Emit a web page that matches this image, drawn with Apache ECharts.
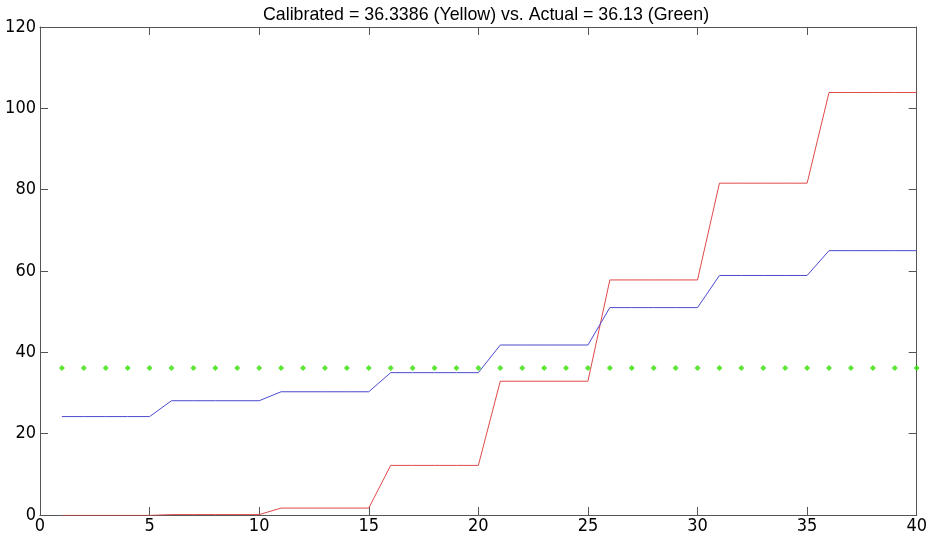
<!DOCTYPE html>
<html><head><meta charset="utf-8">
<script src="https://cdn.jsdelivr.net/npm/echarts@6/dist/echarts.min.js"></script>
<style>html,body{margin:0;padding:0;background:#fff}#c{width:930px;height:538px}</style>
</head><body><div id="c"></div>
<script>
var titleText = 'Calibrated = 36.3386 (Yellow) vs. Actual = 36.13 (Green)';
var xValues = [1,2,3,4,5,6,7,8,9,10,11,12,13,14,15,16,17,18,19,20,21,22,23,24,25,26,27,28,29,30,31,32,33,34,35,36,37,38,39,40];
var redValues = [-0.1,-0.1,-0.1,-0.1,-0.1,0.1,0.1,0.1,0.1,0.1,1.7,1.7,1.7,1.7,1.7,12.2,12.2,12.2,12.2,12.2,32.9,32.9,32.9,32.9,32.9,57.8,57.8,57.8,57.8,57.8,81.6,81.6,81.6,81.6,81.6,103.9,103.9,103.9,103.9,103.9];
var blueValues = [24.2,24.2,24.2,24.2,24.2,28.1,28.1,28.1,28.1,28.1,30.3,30.3,30.3,30.3,30.3,35.0,35.0,35.0,35.0,35.0,41.8,41.8,41.8,41.8,41.8,51.0,51.0,51.0,51.0,51.0,58.9,58.9,58.9,58.9,58.9,65.0,65.0,65.0,65.0,65.0];
var actualValue = 36.13;
var greenValues = xValues.map(function(){ return actualValue; });
var xTicks = [0,5,10,15,20,25,30,35,40];
var yTicks = [0,20,40,60,80,100,120];

function pairs(xs, ys){ return xs.map(function(x,i){ return [x, ys[i]]; }); }

var chart = echarts.init(document.getElementById('c'), null, {renderer:'canvas'});
var axisCol = '#555';
var lblFont = {color:'#000', fontSize:18, fontFamily:'"Liberation Sans Narrow", "DejaVu Sans Condensed", sans-serif'};
chart.setOption({
  animation:false,
  backgroundColor:'#fff',
  title:{text:titleText, left:481, top:1, textAlign:'center',
    textStyle:{fontSize:17.8, fontWeight:'normal', color:'#000', fontFamily:'Liberation Sans, Arial, sans-serif'}},
  grid:{left:40, right:10, top:27, bottom:23, containLabel:false},
  xAxis:[
    {type:'value', min:0, max:40, interval:5, position:'bottom',
     axisLine:{show:true, onZero:false, lineStyle:{color:axisCol}},
     axisTick:{show:true, inside:true, length:8, lineStyle:{color:axisCol}},
     axisLabel:Object.assign({margin:2}, lblFont),
     splitLine:{show:false}},
    {type:'value', min:0, max:40, interval:5, position:'top',
     axisLine:{show:true, onZero:false, lineStyle:{color:axisCol}},
     axisTick:{show:true, inside:true, length:8, lineStyle:{color:axisCol}},
     axisLabel:{show:false}, splitLine:{show:false}}
  ],
  yAxis:[
    {type:'value', min:0, max:120, interval:20, position:'left',
     axisLine:{show:true, onZero:false, lineStyle:{color:axisCol}},
     axisTick:{show:true, inside:true, length:8, lineStyle:{color:axisCol}},
     axisLabel:Object.assign({margin:4}, lblFont),
     splitLine:{show:false}},
    {type:'value', min:0, max:120, interval:20, position:'right',
     axisLine:{show:true, onZero:false, lineStyle:{color:axisCol}},
     axisTick:{show:true, inside:true, length:8, lineStyle:{color:axisCol}},
     axisLabel:{show:false}, splitLine:{show:false}}
  ],
  series:[
    {type:'line', name:'red', data:pairs(xValues, redValues), showSymbol:false, symbol:'none', clip:true,
     lineStyle:{color:'#e04848', width:1}, z:3},
    {type:'line', name:'blue', data:pairs(xValues, blueValues), showSymbol:false, symbol:'none', clip:true,
     lineStyle:{color:'#4a4ad0', width:1}, z:3},
    {type:'scatter', name:'green', data:pairs(xValues, greenValues),
     symbol:'diamond', symbolSize:6,
     itemStyle:{color:'#33e000'}, z:4}
  ]
});
</script></body></html>
